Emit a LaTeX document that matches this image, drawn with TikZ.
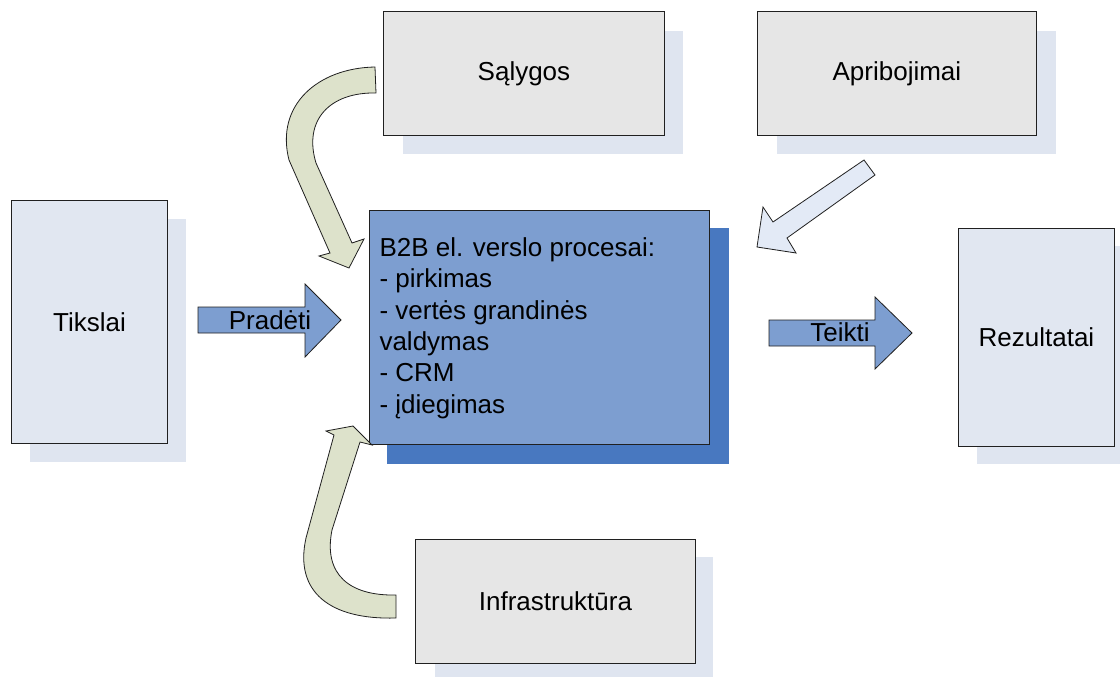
\documentclass[tikz,border=0pt]{standalone}
\usepackage{fontspec}
\setmainfont{Liberation Sans}
\begin{document}
\definecolor{greybox}{HTML}{E6E6E6}
\definecolor{paleblue}{HTML}{E1E7F1}
\definecolor{shadowblue}{HTML}{DFE5F0}
\definecolor{midblue}{HTML}{7D9ED0}
\definecolor{deepblue}{HTML}{4878C0}
\definecolor{olive}{HTML}{DDE2CB}
\definecolor{arrowpale}{HTML}{E3EAF6}
\definecolor{edge}{HTML}{202020}
\tikzset{
  box/.style={draw=edge, line width=0.9pt, inner sep=0pt, anchor=north west},
  shadowbox/.style={fill=shadowblue, draw=none, inner sep=0pt, anchor=north west},
  lbl/.style={font=\fontsize{26}{31.4}\selectfont, text=black},
  blockarrow/.style={draw=edge, line width=0.8pt, line join=miter},
}
\begin{tikzpicture}[x=1pt,y=-1pt]
\useasboundingbox (0,0) rectangle (1120,677);
\fill[white] (0,0) rectangle (1120,677);

% drop shadows
\node[shadowbox, minimum width=280pt, minimum height=123pt] (s1sh) at (403,31) {};
\node[shadowbox, minimum width=279pt, minimum height=123pt] (s2sh) at (777,31) {};
\node[shadowbox, minimum width=156pt, minimum height=243pt] (s3sh) at (30,219) {};
\node[shadowbox, minimum width=143pt, minimum height=218pt] (s4sh) at (977,246) {};
\node[shadowbox, minimum width=278pt, minimum height=120pt] (s5sh) at (435,557) {};
\node[fill=deepblue, inner sep=0pt, anchor=north west, minimum width=342pt, minimum height=236pt] (csh) at (387,228) {};

% boxes
\node[box, fill=greybox, minimum width=281pt, minimum height=124pt] (salygos) at (383,11) {};
\node[lbl] at (salygos.center) {Sąlygos};
\node[box, fill=greybox, minimum width=279pt, minimum height=124pt] (apri) at (757,11) {};
\node[lbl] at (apri.center) {Apribojimai};
\node[box, fill=paleblue, minimum width=156pt, minimum height=243pt] (tiks) at (11,200) {};
\node[lbl] at (tiks.center) {Tikslai};
\node[box, fill=paleblue, minimum width=156pt, minimum height=218pt] (rez) at (958,228) {};
\node[lbl] at (rez.center) {Rezultatai};
\node[box, fill=greybox, minimum width=280pt, minimum height=124pt] (infra) at (415,539) {};
\node[lbl] at (infra.center) {Infrastruktūra};
\node[box, fill=midblue, minimum width=340pt, minimum height=234pt] (proc) at (369,210) {};
\node[lbl, anchor=north west, align=left] (proctext) at (376,234)
  {B2B el. verslo procesai:\\- pirkimas\\- vertės grandinės\\valdymas\\- CRM\\- įdiegimas};

% straight block arrows
\draw[blockarrow, fill=midblue] (198,307) -- (305,307) -- (305,284) -- (341,320)
  -- (305,357) -- (305,333) -- (198,333) -- cycle;
\node[lbl] (pradeti) at (270,320) {Pradėti};
\draw[blockarrow, fill=midblue] (769,320) -- (875,320) -- (875,297) -- (912,333)
  -- (875,369) -- (875,346) -- (769,346) -- cycle;
\node[lbl] (teikti) at (840,332) {Teikti};

% diagonal arrow from Apribojimai
\draw[blockarrow, fill=arrowpale] (864,160) -- (875,175) -- (787,238) -- (796,253)
  -- (757,247) -- (763,207) -- (773,222) -- cycle;

% curved arrow from Sąlygos
\draw[blockarrow, fill=olive] (375,67) .. controls (318,68) and (275,105) .. (289,160)
  -- (330,253) -- (319,256) -- (349,268) -- (364,239) -- (352,243)
  -- (316,163) .. controls (303,120) and (330,92) .. (376,93) -- cycle;

% curved arrow from Infrastruktūra
\draw[blockarrow, fill=olive] (396,618) .. controls (330,620) and (294,592) .. (306,538)
  -- (334,435) -- (326,431) -- (353,426) -- (372,445) -- (360,442)
  -- (332,530) .. controls (323,575) and (350,596) .. (396,595) -- cycle;
\end{tikzpicture}
\end{document}
